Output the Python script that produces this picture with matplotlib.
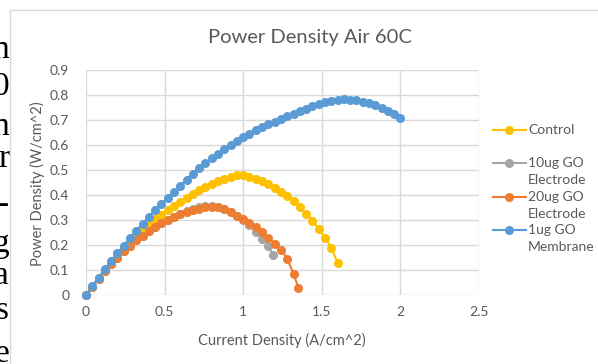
import numpy as np
import matplotlib.pyplot as plt
from matplotlib.lines import Line2D
from matplotlib.patches import Rectangle

# Datos
x_control = [0.00, 0.04, 0.08, 0.12, 0.16, 0.20, 0.24, 0.28, 0.32, 0.36, 0.40, 0.44, 0.48,
             0.52, 0.56, 0.60, 0.64, 0.68, 0.72, 0.76, 0.80, 0.84, 0.88, 0.92, 0.96, 1.00,
             1.04, 1.08, 1.12, 1.16, 1.20, 1.24, 1.28, 1.32, 1.36, 1.40, 1.44, 1.48, 1.52,
             1.56, 1.60]
y_control = [0.000, 0.034, 0.067, 0.099, 0.130, 0.158, 0.186, 0.212, 0.237, 0.260, 0.282,
             0.303, 0.322, 0.340, 0.357, 0.374, 0.390, 0.405, 0.419, 0.432, 0.444, 0.455,
             0.465, 0.474, 0.481, 0.480, 0.474, 0.466, 0.455, 0.443, 0.429, 0.413, 0.395,
             0.375, 0.352, 0.326, 0.297, 0.265, 0.230, 0.190, 0.130]

x_10ug = [0.00, 0.04, 0.08, 0.12, 0.16, 0.20, 0.24, 0.28, 0.32, 0.36, 0.40, 0.44, 0.48, 0.52,
          0.56, 0.60, 0.64, 0.68, 0.72, 0.76, 0.80, 0.84, 0.88, 0.92, 0.96, 1.00, 1.04, 1.08,
          1.12, 1.16, 1.19]
y_10ug = [0.000, 0.033, 0.065, 0.095, 0.123, 0.150, 0.175, 0.198, 0.219, 0.238, 0.256, 0.272,
          0.287, 0.301, 0.314, 0.326, 0.336, 0.344, 0.351, 0.355, 0.356, 0.352, 0.344, 0.332,
          0.317, 0.299, 0.279, 0.252, 0.225, 0.195, 0.160]

x_20ug = [0.00, 0.04, 0.08, 0.12, 0.16, 0.20, 0.24, 0.28, 0.32, 0.36, 0.40, 0.44, 0.48, 0.52,
          0.56, 0.60, 0.64, 0.68, 0.72, 0.76, 0.80, 0.84, 0.88, 0.92, 0.96, 1.00, 1.04, 1.08,
          1.12, 1.16, 1.20, 1.24, 1.28, 1.32, 1.35]
y_20ug = [0.000, 0.033, 0.065, 0.095, 0.123, 0.150, 0.175, 0.198, 0.219, 0.238, 0.256, 0.272,
          0.287, 0.300, 0.312, 0.323, 0.332, 0.340, 0.346, 0.351, 0.354, 0.353, 0.346, 0.334,
          0.318, 0.303, 0.288, 0.271, 0.252, 0.230, 0.206, 0.182, 0.145, 0.085, 0.030]

x_1ug = [0.00, 0.04, 0.08, 0.12, 0.16, 0.20, 0.24, 0.28, 0.32, 0.36, 0.40, 0.44, 0.48, 0.52,
         0.56, 0.60, 0.64, 0.68, 0.72, 0.76, 0.80, 0.84, 0.88, 0.92, 0.96, 1.00, 1.04, 1.08,
         1.12, 1.16, 1.20, 1.24, 1.28, 1.32, 1.36, 1.40, 1.44, 1.48, 1.52, 1.56, 1.60, 1.64,
         1.68, 1.72, 1.76, 1.80, 1.84, 1.88, 1.92, 1.96, 2.00]
y_1ug = [0.000, 0.035, 0.070, 0.104, 0.137, 0.168, 0.198, 0.228, 0.257, 0.286, 0.313, 0.339,
         0.365, 0.390, 0.414, 0.438, 0.462, 0.486, 0.507, 0.527, 0.547, 0.566, 0.584, 0.601,
         0.617, 0.632, 0.646, 0.659, 0.671, 0.683, 0.694, 0.705, 0.716, 0.726, 0.736, 0.746,
         0.756, 0.765, 0.772, 0.777, 0.781, 0.783, 0.782, 0.779, 0.774, 0.767, 0.759, 0.749,
         0.737, 0.723, 0.707]

series_names = ['Control', '10ug GO\nElectrode', '20ug GO\nElectrode', '1ug GO\nMembrane']
series_colors = ['#FFC000', '#A5A5A5', '#ED7D31', '#5B9BD5']

x_ticks = [0, 0.5, 1, 1.5, 2, 2.5]
x_ticklabels = ['0', '0.5', '1', '1.5', '2', '2.5']
y_ticks = [0, 0.1, 0.2, 0.3, 0.4, 0.5, 0.6, 0.7, 0.8, 0.9]
y_ticklabels = ['0', '0.1', '0.2', '0.3', '0.4', '0.5', '0.6', '0.7', '0.8', '0.9']

# letras del texto cortado a la izquierda
margin_letters = ['n', '0', 'n', 'r', '-', 'g', 'a', 's', 'e']
margin_baselines = [58, 95, 135, 167, 213, 252, 284, 319, 362]

W, H = 598, 364
plt.rcParams['font.family'] = ['Lato', 'DejaVu Sans']
fig = plt.figure(figsize=(W / 100, H / 100), dpi=100)
fig.patch.set_facecolor('white')

for letra, yb in zip(margin_letters, margin_baselines):
    fig.text(9 / W, 1 - yb / H, letra, ha='right', va='baseline', fontsize=24,
             family='Liberation Serif', color='black', zorder=-3)

# recuadro del grafico
fig.add_artist(Rectangle((10 / W, -0.1), 1.2, 1 - 10 / H + 0.1, transform=fig.transFigure,
                         facecolor='white', edgecolor='#D9D9D9', linewidth=1, zorder=-2))

ax = fig.add_axes([86 / W, 1 - 295 / H, (479 - 86) / W, (295 - 70) / H])
ax.set_facecolor('none')

datos = [(x_control, y_control), (x_10ug, y_10ug), (x_20ug, y_20ug), (x_1ug, y_1ug)]
for (xs, ys), c in zip(datos, series_colors):
    ax.plot(xs, ys, color=c, linewidth=1.5, marker='o', markersize=5.5, clip_on=False, zorder=3)

ax.set_xlim(0, 2.5)
ax.set_ylim(0, 0.9)
ax.set_xticks(x_ticks)
ax.set_xticklabels(x_ticklabels)
ax.set_yticks(y_ticks)
ax.set_yticklabels(y_ticklabels)
ax.tick_params(length=0, labelsize=10, labelcolor='#595959')
ax.tick_params(axis='y', pad=12)
ax.tick_params(axis='x', pad=8)
ax.grid(True, color='#D9D9D9', linewidth=1)
ax.set_axisbelow(True)
for s in ax.spines.values():
    s.set_visible(False)

fig.text(282 / W, 1 - 340 / H, 'Current Density (A/cm^2)', ha='center', va='center',
         fontsize=10.5, color='#595959')
fig.text(37 / W, 1 - 184 / H, 'Power Density (W/cm^2)', ha='center', va='center',
         rotation=90, fontsize=10.5, color='#595959')
fig.text(310 / W, 1 - 38 / H, 'Power Density Air 60C', ha='center', va='center',
         fontsize=14.5, color='#595959')

# leyenda a mano
legend_rows = [130, 163, 197, 230]
for nombre, c, yr in zip(series_names, series_colors, legend_rows):
    yf = 1 - yr / H
    fig.add_artist(Line2D([493 / W, 526 / W], [yf, yf], transform=fig.transFigure,
                          color=c, linewidth=1.5))
    fig.add_artist(Line2D([509 / W], [yf], transform=fig.transFigure, color=c,
                          marker='o', markersize=5.5, linestyle='none'))
    partes = nombre.split('\n')
    for i, parte in enumerate(partes):
        fig.text(528 / W, yf - i * 17 / H, parte, ha='left', va='center', fontsize=10,
                 color='#595959')

fig.savefig('out.png', dpi=100)
